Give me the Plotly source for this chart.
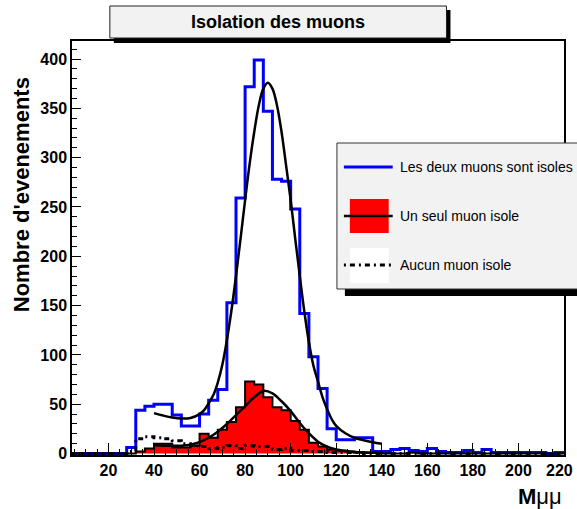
import plotly.graph_objects as go

# ---------------- data ----------------
bin_low = list(range(4, 220, 4))          # 54 bins of width 4, from 4 to 220
bin_high_last = 220

deux_isoles = [0, 0, 0, 0, 0, 0, 6, 44, 48, 50, 50, 39, 28, 28, 40, 54, 65, 153,
               259, 372, 399, 347, 278, 276, 248, 142, 98, 66, 25, 14, 14, 16, 16,
               2, 2, 4, 5, 3, 2, 5, 2, 1, 1, 3, 1, 4, 1, 1, 1, 1, 1, 1, 0, 1]

un_isole = [0, 0, 0, 0, 0, 0, 0, 2, 5, 10, 10, 6, 6, 8, 20, 16, 24, 32,
            47, 73, 70, 57, 47, 44, 33, 24, 11, 7, 4, 3, 2, 1, 1,
            1, 0, 0, 0, 1, 0, 0, 0, 0, 0, 0, 0, 0, 0, 0, 0, 0, 0, 0, 0, 0]

aucun_isole = [0, 0, 0, 0, 0, 0, 2, 15, 17, 16, 15, 13, 10, 8, 7, 5, 6, 8,
               5, 8, 7, 7, 4, 5, 3, 3, 2, 2, 1, 1, 1, 1, 0,
               0, 0, 0, 0, 0, 0, 0, 0, 0, 0, 0, 0, 0, 0, 0, 0, 0, 0, 0, 0, 0]

fit_deux_x = [40, 44, 48, 52, 56, 60, 62, 64, 66, 68, 70, 72, 74, 76, 78, 80, 82, 84,
              86, 88, 90, 92, 94, 96, 98, 100, 102, 104, 106, 108, 110, 112, 114,
              116, 118, 120, 124, 128, 132, 136, 140]
fit_deux_y = [41, 38.5, 36.5, 35.5, 36, 40, 44, 51, 59, 72, 90, 115, 145, 180, 218,
              257, 294, 326, 353, 370, 376, 370, 353, 326, 292, 257, 218, 180, 144,
              113, 89, 73, 57, 45, 35, 28, 20.5, 16, 13.5, 11.5, 10]

fit_un_x = [40, 44, 48, 52, 56, 60, 64, 68, 72, 76, 80, 84, 88, 92, 96, 100, 104,
            108, 112, 116, 120, 124, 128, 132, 136, 140]
fit_un_y = [8.5, 8, 7.8, 8, 9, 11.5, 16, 22, 30, 39, 48, 57, 63.5, 61, 53, 43, 31,
            20.5, 12, 7, 4, 2.5, 1.5, 1, 0.8, 0.5]

x_ticks = list(range(20, 221, 20))
y_ticks = list(range(0, 401, 50))

title_text = "Isolation des muons"
legend_labels = ["Les deux muons sont isoles", "Un seul muon isole", "Aucun muon isole"]
y_title = "Nombre d'evenements"
x_title = "<b>M</b>μμ"

# ---------------- helpers ----------------
def steps(vals):
    xs = bin_low + [bin_high_last]
    ys = vals + [vals[-1]]
    return xs, ys

NARROW = "Liberation Sans Narrow, Arial Narrow, Liberation Sans, sans-serif"
SANS = "Liberation Sans, Arial, sans-serif"

W_IMG, H_IMG = 577, 509
L, R, T, B = 72, 566, 41, 455
PW, PH = R - L, B - T

def px(x):
    return (x - L) / PW

def py(y):
    return (B - y) / PH

fig = go.Figure()

bx, by = steps(deux_isoles)
fig.add_trace(go.Scatter(x=bx, y=by, mode="lines", line=dict(color="#0000ff", width=3, shape="hv"),
                         name=legend_labels[0], hoverinfo="skip"))
rx, ry = steps(un_isole)
fig.add_trace(go.Scatter(x=rx, y=ry, mode="lines", line=dict(color="black", width=2, shape="hv"),
                         fill="tozeroy", fillcolor="#ff0000", name=legend_labels[1], hoverinfo="skip"))
ax_, ay_ = steps(aucun_isole)
fig.add_trace(go.Scatter(x=ax_, y=ay_, mode="lines",
                         line=dict(color="black", width=3, shape="hv", dash="2px,4px,5px,4px"),
                         name=legend_labels[2], hoverinfo="skip"))
fig.add_trace(go.Scatter(x=fit_deux_x, y=fit_deux_y, mode="lines",
                         line=dict(color="black", width=2.5, shape="spline", smoothing=1.0),
                         showlegend=False, hoverinfo="skip"))
fig.add_trace(go.Scatter(x=fit_un_x, y=fit_un_y, mode="lines",
                         line=dict(color="black", width=2.5, shape="spline", smoothing=1.0),
                         showlegend=False, hoverinfo="skip"))

shapes = []
# title box with shadow
shapes.append(dict(type="rect", xref="paper", yref="paper", x0=px(114), x1=px(452), y0=py(43), y1=py(10),
                   fillcolor="black", line=dict(width=0), layer="above"))
shapes.append(dict(type="rect", xref="paper", yref="paper", x0=px(110), x1=px(448), y0=py(38), y1=py(6),
                   fillcolor="#f2f2f2", line=dict(color="#222", width=1), layer="above"))
# legend box with shadow
shapes.append(dict(type="rect", xref="paper", yref="paper", x0=px(346), x1=px(585), y0=py(296), y1=py(150),
                   fillcolor="black", line=dict(width=0), layer="above"))
shapes.append(dict(type="rect", xref="paper", yref="paper", x0=px(338), x1=px(582), y0=py(289), y1=py(143),
                   fillcolor="#f2f2f2", line=dict(color="#333", width=1), layer="above"))
# legend symbols
shapes.append(dict(type="line", xref="paper", yref="paper", x0=px(345), x1=px(394), y0=py(167), y1=py(167),
                   line=dict(color="#0000ff", width=3), layer="above"))
shapes.append(dict(type="rect", xref="paper", yref="paper", x0=px(351), x1=px(390), y0=py(233), y1=py(199),
                   fillcolor="#ff0000", line=dict(width=0), layer="above"))
shapes.append(dict(type="line", xref="paper", yref="paper", x0=px(345), x1=px(394), y0=py(216), y1=py(216),
                   line=dict(color="black", width=2.5), layer="above"))
shapes.append(dict(type="rect", xref="paper", yref="paper", x0=px(351), x1=px(390), y0=py(283), y1=py(248),
                   fillcolor="white", line=dict(width=0), layer="above"))
shapes.append(dict(type="line", xref="paper", yref="paper", x0=px(345), x1=px(394), y0=py(265), y1=py(265),
                   line=dict(color="black", width=3, dash="2px,4px,5px,4px"), layer="above"))

annotations = []
annotations.append(dict(text="<b>" + title_text + "</b>", xref="paper", yref="paper", x=px(279), y=py(22),
                        xanchor="center", yanchor="middle", showarrow=False,
                        font=dict(family=NARROW, size=18, color="black")))
for lab, yy in zip(legend_labels, [167, 216, 265]):
    annotations.append(dict(text=lab, xref="paper", yref="paper", x=px(399), y=py(yy),
                            xanchor="left", yanchor="middle", showarrow=False,
                            font=dict(family=NARROW, size=14, color="black")))
annotations.append(dict(text="<b>" + y_title + "</b>", xref="paper", yref="paper", x=px(21), y=py(195),
                        xanchor="center", yanchor="middle", showarrow=False, textangle=-90,
                        font=dict(family=SANS, size=22, color="black")))
annotations.append(dict(text=x_title, xref="paper", yref="paper", x=px(566), y=py(496),
                        xanchor="right", yanchor="middle", showarrow=False,
                        font=dict(family=NARROW, size=22, color="black")))
# last x tick label, kept inside the page edge
annotations.append(dict(text=str(x_ticks[-1]), xref="paper", yref="paper",
                        x=px(577), y=py(470), xanchor="right", yanchor="middle", showarrow=False,
                        font=dict(family=NARROW, size=16, color="black", weight="bold")))

fig.update_layout(
    width=W_IMG, height=H_IMG,
    margin=dict(l=L, r=W_IMG - R, t=T, b=H_IMG - B, pad=0),
    paper_bgcolor="white", plot_bgcolor="white",
    showlegend=False,
    shapes=shapes, annotations=annotations,
)
fig.update_xaxes(range=[4, 220], tickvals=x_ticks,
                 ticktext=[str(v) for v in x_ticks[:-1]] + [""],
                 ticks="inside", ticklen=12, tickwidth=1, tickcolor="black",
                 minor=dict(dtick=5, tick0=0, ticks="inside", ticklen=6, tickwidth=1, tickcolor="black"),
                 showline=True, linecolor="black", linewidth=1.5, mirror=True,
                 showgrid=False, zeroline=False,
                 tickfont=dict(family=NARROW, size=16, color="black", weight="bold"))
fig.update_yaxes(range=[-1.5, 418.3], tickvals=y_ticks, ticktext=[str(v) for v in y_ticks],
                 ticks="inside", ticklen=9, tickwidth=1, tickcolor="black",
                 minor=dict(dtick=10, tick0=0, ticks="inside", ticklen=5, tickwidth=1, tickcolor="black"),
                 showline=True, linecolor="black", linewidth=1.5, mirror=True,
                 showgrid=False, zeroline=False,
                 tickfont=dict(family=NARROW, size=16, color="black", weight="bold"))

fig.write_html("out.html", config={"displayModeBar": False},
               post_script="document.body.style.margin='0px';")
